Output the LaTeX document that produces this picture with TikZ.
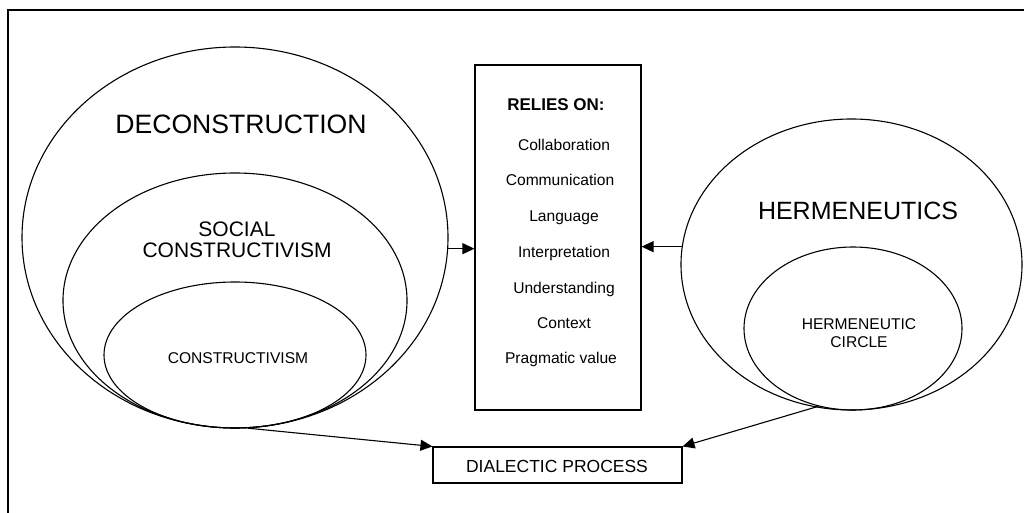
\documentclass[tikz,border=0pt]{standalone}
\usepackage{fontspec}
\setmainfont{Liberation Sans}
\usetikzlibrary{shapes.geometric,arrows.meta}
\begin{document}
\begin{tikzpicture}[x=1bp,y=-1bp,
  oval/.style={draw,ellipse,line width=1.1bp,inner sep=0pt},
  boxnode/.style={draw,rectangle,line width=1.1bp,inner sep=0pt},
  txt/.style={anchor=base,inner sep=0pt,font=\fontsize{15.6bp}{18bp}\selectfont},
  arr/.style={line width=1.1bp,-{Triangle[length=12bp,width=11bp]}}]
\useasboundingbox (0,0) rectangle (1024,513);
\fill[white] (0,0) rectangle (1024,513);
% outer frame (visible part)
\draw[line width=1.2bp] (8,520) -- (8,10) -- (1030,10);
% left ellipses
\node[oval,minimum width=426bp,minimum height=381bp] (decon) at (235,237.5) {};
\node[oval,minimum width=344bp,minimum height=255bp] (social) at (235,300.5) {};
\node[oval,minimum width=262bp,minimum height=146bp] (constr) at (235,355) {};
\node[txt,font=\fontsize{26.6bp}{30bp}\selectfont] (tdecon) at (241,134) {DECONSTRUCTION};
\node[txt,font=\fontsize{21bp}{24bp}\selectfont] (tsocial1) at (237,237) {SOCIAL};
\node[txt,font=\fontsize{21bp}{24bp}\selectfont] (tsocial2) at (237,258) {CONSTRUCTIVISM};
\node[txt] (tconstr) at (238,364) {CONSTRUCTIVISM};
% right ellipses
\node[oval,minimum width=341bp,minimum height=291bp] (herm) at (851.5,264.5) {};
\node[oval,minimum width=218bp,minimum height=163bp] (hcirc) at (853,328.5) {};
\node[txt,font=\fontsize{25bp}{28bp}\selectfont] (therm) at (858,220) {HERMENEUTICS};
\node[txt] (thc1) at (859,330) {HERMENEUTIC};
\node[txt] (thc2) at (859,348) {CIRCLE};
% central box
\node[boxnode,minimum width=166bp,minimum height=345bp] (relies) at (558,237.5) {};
\node[txt,font=\fontsize{17bp}{20bp}\selectfont\bfseries] (r0) at (556,111) {RELIES ON:};
\node[txt] (r1) at (564,151) {Collaboration};
\node[txt] (r2) at (560,186) {Communication};
\node[txt] (r3) at (564,222) {Language};
\node[txt] (r4) at (564,258) {Interpretation};
\node[txt] (r5) at (564,294) {Understanding};
\node[txt] (r6) at (564,329) {Context};
\node[txt] (r7) at (561,364) {Pragmatic value};
% dialectic box
\node[boxnode,minimum width=249bp,minimum height=36bp] (dial) at (557.5,465) {};
\node[txt,font=\fontsize{17.5bp}{20bp}\selectfont] (tdial) at (557,472) {DIALECTIC PROCESS};
% arrows
\draw[arr] (decon.-3) -- (decon.-3 -| relies.west);
\draw[arr] (herm.174) -- (herm.174 -| relies.east);
\draw[arr] (constr.-80) -- (dial.north west);
\draw[arr] (hcirc.-114) -- (dial.north east);
\end{tikzpicture}
\end{document}
